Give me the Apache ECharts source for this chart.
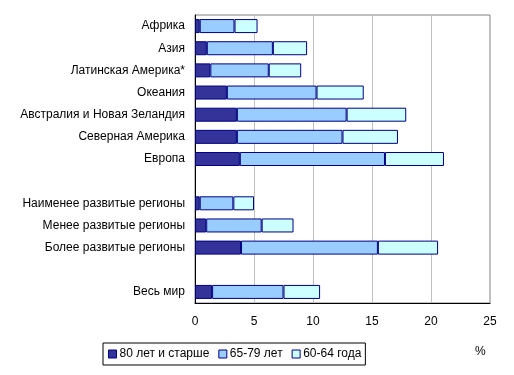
<!DOCTYPE html>
<html>
<head>
<meta charset="utf-8">
<script src="https://cdn.jsdelivr.net/npm/echarts@6/dist/echarts.min.js"></script>
<style>
  html, body { margin: 0; padding: 0; background: #fff; }
  #chart { width: 514px; height: 375px; }
</style>
</head>
<body>
<div id="chart"></div>
<script>
// regions (blank entries are the gaps between groups)
const regions = [
  'Африка', 'Азия', 'Латинская Америка*', 'Океания',
  'Австралия и Новая Зеландия', 'Северная Америка', 'Европа', '',
  'Наименее развитые регионы', 'Менее развитые регионы', 'Более развитые регионы', ' ',
  'Весь мир'
]
// shares of population, %
const age80plus = [0.4, 1.0, 1.3, 2.7, 3.55, 3.55, 3.8, '-', 0.4, 0.95, 3.9, '-', 1.45]
const age65to79 = [2.95, 5.6, 4.95, 7.6, 9.3, 8.95, 12.3, '-', 2.85, 4.7, 11.6, '-', 6.05]
const age60to64 = [1.95, 2.9, 2.75, 4.0, 5.05, 4.7, 5.0, '-', 1.75, 2.7, 5.1, '-', 3.1]
const seriesNames = ['80 лет и старше', '65-79 лет', '60-64 года']
const xTicks = [0, 5, 10, 15, 20, 25]

const colors = ['#333399', '#99ccff', '#ccffff']
const font = 'Liberation Sans, Arial, sans-serif'

const myChart = echarts.init(document.getElementById('chart'))

const mkSeries = (name, data, i) => ({
  name: name,
  type: 'bar',
  stack: 'all',
  data: data,
  barWidth: 14,
  itemStyle: { color: colors[i], borderColor: '#000080', borderWidth: 1 },
  emphasis: { disabled: true }
})

myChart.setOption({
  animation: false,
  textStyle: { fontFamily: font },
  grid: {
    left: 195, right: 24, top: 15, bottom: 72,
    show: true, borderColor: '#808080', borderWidth: 1
  },
  legend: {
    data: seriesNames,
    left: 103, top: 343,
    orient: 'horizontal',
    borderColor: '#000', borderWidth: 1,
    padding: [5, 4, 5, 5],
    itemGap: 9,
    itemWidth: 8, itemHeight: 8,
    icon: 'rect',
    itemStyle: { borderColor: '#000080', borderWidth: 1 },
    textStyle: { fontFamily: font, fontSize: 12, color: '#000', padding: [0, 0, 0, -2] }
  },
  title: {
    text: '%',
    left: 470, top: 341,
    textStyle: { fontFamily: font, fontSize: 12, fontWeight: 'normal', color: '#000' }
  },
  xAxis: {
    type: 'value',
    min: xTicks[0], max: xTicks[xTicks.length - 1], interval: 5,
    axisLine: { show: true, lineStyle: { color: '#000', width: 1 } },
    axisTick: { show: false },
    axisLabel: { color: '#000', fontSize: 12, margin: 13, fontFamily: font },
    splitLine: { lineStyle: { color: '#c0c0c0', width: 1 } }
  },
  yAxis: {
    type: 'category',
    inverse: true,
    data: regions,
    axisLine: { show: true, lineStyle: { color: '#000', width: 1 } },
    axisTick: { show: false },
    axisLabel: { color: '#000', fontSize: 12, margin: 10, fontFamily: font, interval: 0 }
  },
  series: [
    mkSeries(seriesNames[0], age80plus, 0),
    mkSeries(seriesNames[1], age65to79, 1),
    mkSeries(seriesNames[2], age60to64, 2)
  ]
})
</script>
</body>
</html>
